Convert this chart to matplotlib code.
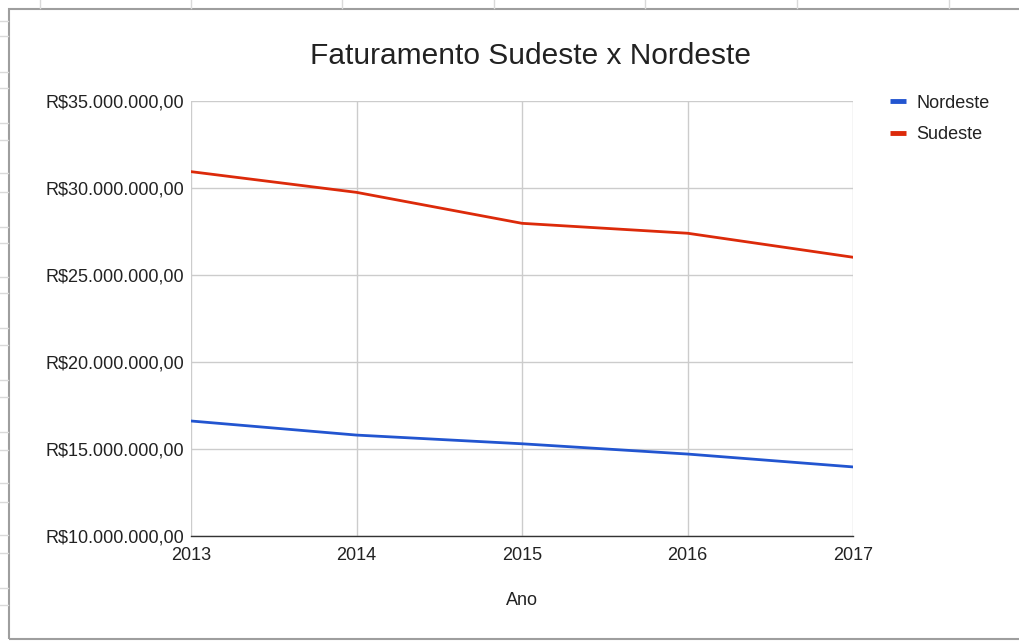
import matplotlib.pyplot as plt
from matplotlib.lines import Line2D
from matplotlib.patches import Rectangle

# data (values in R$)
anos = [2013, 2014, 2015, 2016, 2017]
nordeste = [16.61e6, 15.80e6, 15.30e6, 14.71e6, 13.97e6]
sudeste = [30.94e6, 29.75e6, 27.97e6, 27.40e6, 26.02e6]
yticks = [10e6, 15e6, 20e6, 25e6, 30e6, 35e6]

# spreadsheet cells around the chart
col_lines = [40, 191, 342, 494, 645, 797, 949]
row_ticks = [21, 36, 72, 88, 123, 140, 173, 192, 227, 243, 277, 293, 328,
             345, 380, 397, 432, 450, 483, 502, 535, 553, 588, 605]

plt.rcParams['font.family'] = ['Liberation Sans', 'DejaVu Sans']

W, H = 1020, 643
FS = 13


def brl(v):
    '''format number like R$35.000.000,00'''
    s = f"{int(round(v)):,}".replace(",", ".")
    return "R$" + s + ",00"


fig = plt.figure(figsize=(W / 100, H / 100), dpi=100)

# chart frame and sheet grid
for x in col_lines:
    fig.add_artist(Line2D([x / W, x / W], [1, 1 - 8 / H], color='#d9d9d9', lw=1))
for y in row_ticks:
    fig.add_artist(Line2D([0, 8 / W], [1 - y / H, 1 - y / H], color='#d9d9d9', lw=1))
fig.add_artist(Rectangle((9 / W, 4 / H), 1.2, 1 - 13 / H, transform=fig.transFigure,
                         fill=False, edgecolor='#9e9e9e', lw=1.5))

ax = fig.add_axes([191 / W, 1 - 536 / H, (853 - 191) / W, (536 - 101) / H])

ax.plot(anos, nordeste, color='#2255d0', lw=2, label='Nordeste')
ax.plot(anos, sudeste, color='#dc2a0a', lw=2, label='Sudeste')

ax.set_xlim(2013, 2017)
ax.set_ylim(10e6, 35e6)
ax.set_xticks(anos)
ax.set_yticks(yticks)
ax.set_yticklabels([brl(v) for v in yticks])
ax.tick_params(axis='both', length=0, labelsize=FS, colors='#222222')
ax.tick_params(axis='x', pad=8)
ax.tick_params(axis='y', pad=5)

ax.grid(True, color='#cccccc', lw=1)
ax.set_axisbelow(True)
for s in ['top', 'right', 'left']:
    ax.spines[s].set_visible(False)
ax.spines['bottom'].set_color('#333333')
ax.spines['bottom'].set_linewidth(1)

ax.set_xlabel('Ano', fontsize=FS, color='#222222', labelpad=20)
fig.text(530 / W, 1 - 56 / H, 'Faturamento Sudeste x Nordeste', fontsize=21.5,
         ha='center', va='center', color='#222222')

leg = ax.legend(loc='upper left', bbox_to_anchor=(1.032, 1.052), frameon=False,
                fontsize=FS, handlelength=0.85, handletextpad=0.6, labelspacing=0.8,
                labelcolor='#222222')
# legend keys are short thick bars
for h in leg.get_lines():
    h.set_linewidth(3.5)
    h.set_solid_capstyle('butt')

plt.savefig('out.png', dpi=100)
